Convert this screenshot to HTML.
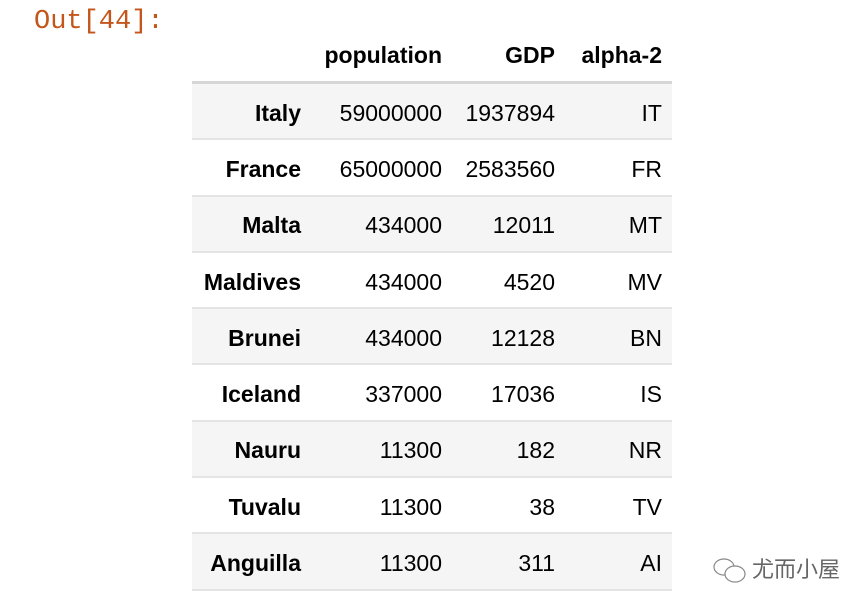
<!DOCTYPE html>
<html><head><meta charset="utf-8"><style>
body{margin:0;width:864px;height:612px;background:#fff;position:relative;overflow:hidden;font-family:"Liberation Sans",sans-serif;}
.out{position:absolute;left:34px;top:7px;font-family:"Liberation Mono",monospace;font-size:27px;color:#c4561c;}
table{position:absolute;left:192px;top:40px;border-collapse:collapse;font-size:23px;color:#000;white-space:nowrap;}
th,td{text-align:right;padding:0 10px;}
thead th{height:39px;padding-top:2px;border-bottom:3px solid #d6d6d6;vertical-align:top;}
tbody td,tbody th{height:50.3px;padding-top:4px;border-bottom:2px solid #e4e4e4;}
tbody tr:nth-child(odd){background:#f5f5f5;}
.c0{width:99px;}.c1{width:121px;}.c2{width:93px;}.c3{width:87px;}
.wm{position:absolute;left:752px;top:552px;font-size:22px;color:#666;font-family:"Noto Sans CJK SC",sans-serif;}
</style></head><body>
<div class="out">Out[44]:</div>
<table>
<thead><tr><th class="c0"></th><th class="c1">population</th><th class="c2">GDP</th><th class="c3">alpha-2</th></tr></thead>
<tbody>
<tr><th>Italy</th><td>59000000</td><td>1937894</td><td>IT</td></tr>
<tr><th>France</th><td>65000000</td><td>2583560</td><td>FR</td></tr>
<tr><th>Malta</th><td>434000</td><td>12011</td><td>MT</td></tr>
<tr><th>Maldives</th><td>434000</td><td>4520</td><td>MV</td></tr>
<tr><th>Brunei</th><td>434000</td><td>12128</td><td>BN</td></tr>
<tr><th>Iceland</th><td>337000</td><td>17036</td><td>IS</td></tr>
<tr><th>Nauru</th><td>11300</td><td>182</td><td>NR</td></tr>
<tr><th>Tuvalu</th><td>11300</td><td>38</td><td>TV</td></tr>
<tr><th>Anguilla</th><td>11300</td><td>311</td><td>AI</td></tr>
</tbody></table>
<svg style="position:absolute;left:712px;top:556px" width="36" height="30"><g fill="none" stroke="#888" stroke-width="1.2"><ellipse cx="12" cy="11" rx="10" ry="8"/><ellipse cx="23" cy="18" rx="10" ry="8" fill="#fff"/></g></svg>
<div class="wm">尤而小屋</div>
</body></html>
